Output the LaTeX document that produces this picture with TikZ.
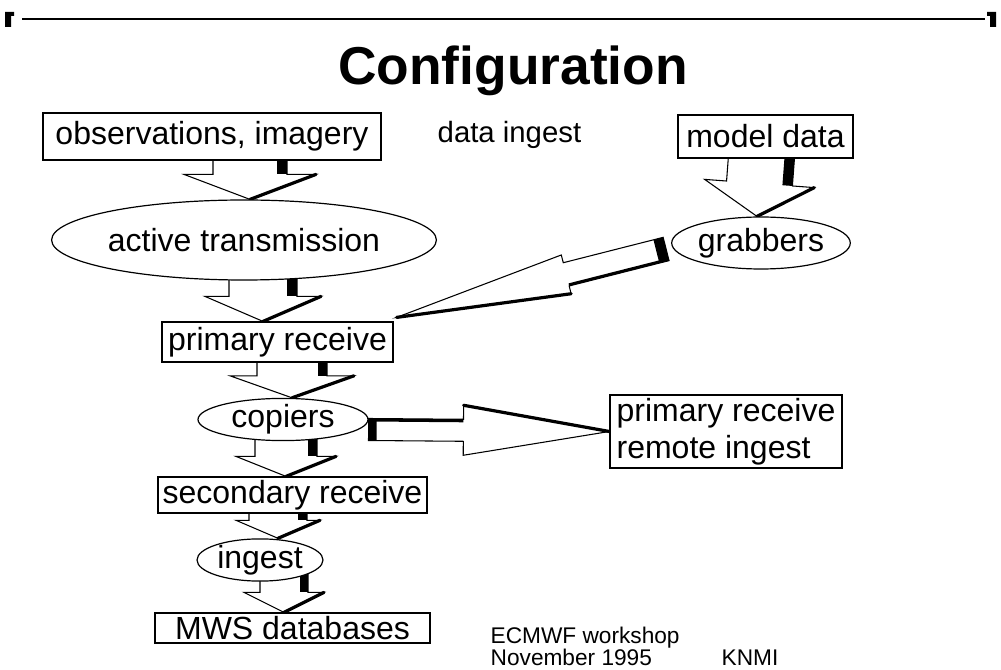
\documentclass[tikz,border=0pt]{standalone}
\usepackage{fontspec}
\setmainfont{Liberation Sans}
\usetikzlibrary{positioning,calc,backgrounds,shapes.geometric}

% hollow block arrow, shadow on the left of the way it points
% #1 start, #2 tip, #3 shaft half width, #4 head half width,
% #5 head length, #6 inner edge of the shadow strip, #7 start block
\newcommand{\fatarrow}[7]{%
  \coordinate (fa-a) at (#1);
  \coordinate (fa-b) at (#2);
  \coordinate (fa-h) at ($(fa-b)!#5!(fa-a)$);
  \coordinate (fa-s) at ($(fa-a)!#7!(fa-b)$);
  \filldraw[fat] ($(fa-a)!#3!90:(fa-b)$) -- ($(fa-h)!#3!90:(fa-b)$)
    -- ($(fa-h)!#4!90:(fa-b)$) -- (fa-b) -- ($(fa-h)!#4!-90:(fa-b)$)
    -- ($(fa-h)!#3!-90:(fa-b)$) -- ($(fa-a)!#3!-90:(fa-b)$) -- cycle;
  \fill ($(fa-a)!#3!90:(fa-b)$) -- ($(fa-h)!#3!90:(fa-b)$)
    -- ($(fa-h)!#6!90:(fa-b)$) -- ($(fa-a)!#6!90:(fa-b)$) -- cycle;
  \fill ($(fa-a)!#3!90:(fa-b)$) -- ($(fa-a)!#3!-90:(fa-b)$)
    -- ($(fa-s)!#3!-90:(fa-b)$) -- ($(fa-s)!#3!90:(fa-b)$) -- cycle;
  \draw[line width=2.4pt, line cap=round] ($(fa-h)!#4!90:(fa-b)$) -- (fa-b);
}

\begin{document}
\begin{tikzpicture}[x=0.75pt, y=-0.75pt, font=\fontsize{24}{27.75}\selectfont,
    box/.style={draw, fill=white, line width=0.9pt, inner sep=0pt},
    oval/.style={draw, ellipse, fill=white, line width=0.9pt, inner sep=0pt},
    fat/.style={draw, fill=white, line width=0.8pt, line join=miter},
    small/.style={font=\fontsize{17}{19}\selectfont, anchor=base west}]
  \useasboundingbox (0,0) rectangle (1001,670);

  % page rule and corner marks
  \draw[line width=1pt] (22,19) -- (985,19);
  \fill (5,12) rectangle (11,27) (11,12) rectangle (14,16);
  \fill (990,12) rectangle (996,27) (987,12) rectangle (990,16);

  \node[font=\fontsize{40}{44}\selectfont\bfseries, anchor=base] (title) at (513,85) {Configuration};
  \node[anchor=base west, font=\fontsize{22}{24}\selectfont] (ingtxt) at (433,143) {data ingest};

  \node[box, minimum width=253.5pt, minimum height=35.25pt] (obs) at (212,136.5) {observations, imagery};
  \node[box, minimum width=131.25pt, minimum height=32.25pt] (model) at (765.5,136.5) {model data};
  \node[oval, minimum width=246pt, minimum height=60pt] (act) at (244,240) {active transmission};
  \node[oval, minimum width=126pt, minimum height=39pt] (grab) at (761,243) {grabbers};
  \node[box, minimum width=173.25pt, minimum height=30pt] (prim) at (277.5,342) {primary receive};
  \node[oval, minimum width=127.5pt, minimum height=27.75pt] (cop) at (283,419.5) {copiers};
  \node[box, minimum width=174pt, minimum height=54.75pt, align=left] (rem) at (726,431.5) {primary receive\\remote ingest};
  \node[box, minimum width=201.75pt, minimum height=27pt] (sec) at (292.5,495) {secondary receive};
  \node[oval, minimum width=94.5pt, minimum height=25.5pt] (ing) at (260,560) {ingest};
  \node[box, minimum width=206.25pt, minimum height=22.5pt] (mws) at (292.5,628) {MWS databases};

  \node[small] (ws) at (486,643) {ECMWF workshop};
  \node[small] (date) at (486,666) {November 1995};
  \node[small] (knmi) at (717,666) {KNMI};

  \begin{scope}[on background layer]
    \fatarrow{$(obs.center)+(38,0)$}{$(act.north)+(6,0)$}{27.75pt}{49.5pt}{18.75pt}{20.25pt}{0pt}
    \fatarrow{$(act.center)+(19,0)$}{$(prim.north)+(-14.5,0)$}{25.5pt}{43.5pt}{18.75pt}{18pt}{0pt}
    \fatarrow{$(prim.center)+(14.5,0)$}{$(cop.north)+(9,0)$}{26.25pt}{46.5pt}{16.5pt}{19.5pt}{0pt}
    \fatarrow{$(cop.center)+(3,0)$}{$(sec.north)+(-6.5,0)$}{23.25pt}{37.5pt}{15pt}{16.5pt}{0pt}
    \fatarrow{$(sec.center)+(-14.5,0)$}{$(ing.north)+(18,0)$}{21.75pt}{31.5pt}{13.5pt}{15pt}{0pt}
    \fatarrow{$(ing.center)+(24,0)$}{$(mws.north)+(-8.5,0)$}{18pt}{30pt}{15pt}{12pt}{0pt}
    \fatarrow{$(model.center)+(-2.5,0)$}{$(grab.north)+(-4,0)$}{24.75pt}{41.25pt}{24.75pt}{17.25pt}{0pt}
    \fatarrow{$(cop.east)+(0,10)$}{rem.west}{8.25pt}{18.75pt}{109.5pt}{6pt}{6pt}
    \fatarrow{$(grab.west)+(-5,6)$}{$(prim.north east)+(3,-4)$}{9pt}{15pt}{131.25pt}{7pt}{7.5pt}
  \end{scope}
\end{tikzpicture}
\end{document}
